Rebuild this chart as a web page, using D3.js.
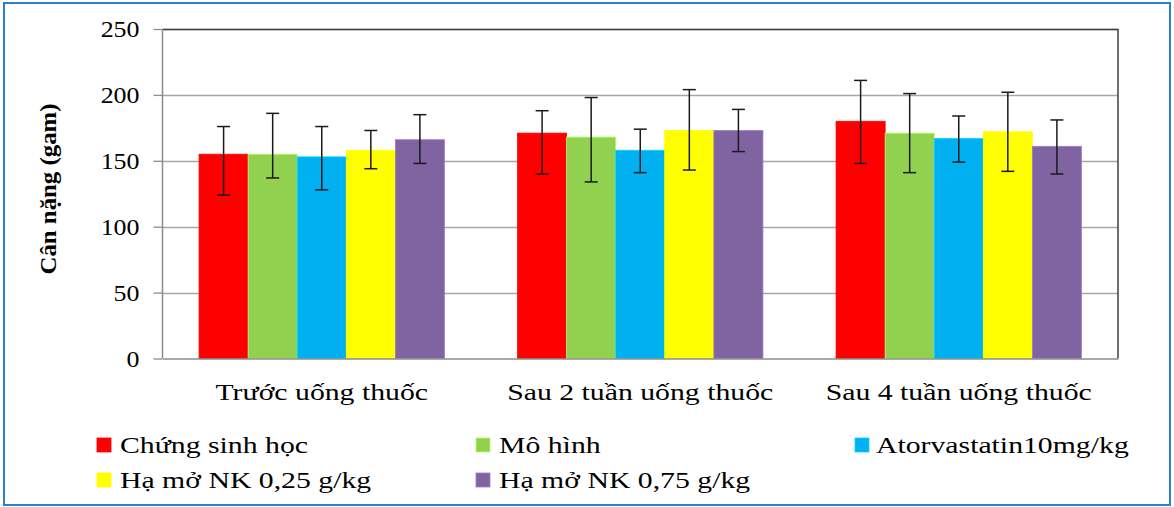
<!DOCTYPE html>
<html><head><meta charset="utf-8">
<script src="https://cdn.jsdelivr.net/npm/d3@7"></script>
<style>body{margin:0;background:#fff}svg{display:block}text{font-family:"Liberation Serif","Times New Roman",serif !important;fill:#000}</style>
</head><body>
<svg id="c" width="1174" height="507"></svg>
<script>
const categories = ["Trước uống thuốc", "Sau 2 tuần uống thuốc", "Sau 4 tuần uống thuốc"];
const seriesNames = ["Chứng sinh học", "Mô hình", "Atorvastatin10mg/kg", "Hạ mở NK 0,25 g/kg", "Hạ mở NK 0,75 g/kg"];
const colors = ["#ff0000", "#92d050", "#00b0f0", "#ffff00", "#8064a2"];
// means per series, one value per category
const means = [
  [155, 171, 180],
  [155, 168, 171],
  [153, 158, 167],
  [158, 173, 172],
  [166, 173, 161]
];
const errHigh = [
  [176, 188, 211],
  [186, 198, 201],
  [176, 174, 184],
  [173, 204, 202],
  [185, 189, 181]
];
const errLow = [
  [124, 140, 148],
  [137, 134, 141],
  [128, 141, 149],
  [144, 143, 142],
  [148, 157, 140]
];
const yTicks = [0, 50, 100, 150, 200, 250];

const FONT = '"Liberation Serif","Times New Roman",serif';
const svg = d3.select("#c");
// outer frame
svg.append("rect").attr("x", 4).attr("y", 3).attr("width", 1166).attr("height", 502)
  .attr("fill", "#fff").attr("stroke", "#2a7fd0").attr("stroke-width", 2);

const L = 162.5, R = 1118, T = 29, B = 358.5;
const x0 = d3.scaleBand().domain(categories).range([L, R]).paddingInner(0).paddingOuter(0);
const x1 = d3.scaleBand().domain(d3.range(seriesNames.length)).range([0, x0.bandwidth()]).paddingOuter(0.745).paddingInner(0);
const y = d3.scaleLinear().domain([0, 250]).range([B, T]);

// gridlines
svg.append("g").selectAll("line").data(yTicks.slice(1)).join("line")
  .attr("x1", L).attr("x2", R).attr("y1", d => Math.round(y(d)) + 0.5).attr("y2", d => Math.round(y(d)) + 0.5)
  .attr("stroke", "#a6a6a6").attr("stroke-width", 1.3);
// plot border top/right
svg.append("path").attr("d", `M${L},${Math.round(T)+0.5}H${R}V${B}`).attr("fill", "none").attr("stroke", "#404040").attr("stroke-width", 1.5);

// bars
const g = svg.append("g");
seriesNames.forEach((s, si) => {
  g.append("g").selectAll("rect").data(categories).join("rect")
    .attr("x", c => x0(c) + x1(si))
    .attr("width", x1.bandwidth())
    .attr("y", (c, ci) => y(means[si][ci]))
    .attr("height", (c, ci) => y(0) - y(means[si][ci]))
    .attr("fill", colors[si])
    .attr("stroke", d3.color(colors[si]).brighter(0.6)).attr("stroke-width", 0.8);
});
// error bars
seriesNames.forEach((s, si) => {
  const eg = g.append("g").attr("stroke", "#1a1a1a").attr("stroke-width", 1.5);
  categories.forEach((c, ci) => {
    const cx = x0(c) + x1(si) + x1.bandwidth() / 2;
    const yt = y(errHigh[si][ci]), yb = y(errLow[si][ci]);
    eg.append("line").attr("x1", cx).attr("x2", cx).attr("y1", yt).attr("y2", yb);
    eg.append("line").attr("x1", cx - 6.5).attr("x2", cx + 6.5).attr("y1", yt).attr("y2", yt);
    eg.append("line").attr("x1", cx - 6.5).attr("x2", cx + 6.5).attr("y1", yb).attr("y2", yb);
  });
});

// y axis
const ya = svg.append("g").attr("transform", `translate(${L},0)`)
  .call(d3.axisLeft(y).tickValues(yTicks).tickSize(9).tickPadding(14));
ya.attr("font-family", FONT);
ya.select(".domain").attr("stroke", "#8c8c8c").attr("stroke-width", 1.5).attr("d", `M0,${B}V${T}`);
ya.selectAll(".tick line").attr("stroke", "#8c8c8c").attr("stroke-width", 1.3);
ya.selectAll(".tick text").style("font-size", "24px").style("font-family", FONT).attr("fill", "#000")
  .attr("x", -23 / 1.08).attr("transform", "scale(1.08,1)");

// x axis
const xa = svg.append("g").attr("transform", `translate(0,${B})`)
  .call(d3.axisBottom(x0).tickSize(0).tickPadding(0));
xa.attr("font-family", FONT);
xa.select(".domain").attr("stroke", "#8c8c8c").attr("stroke-width", 1.5);
xa.selectAll(".tick text").style("font-size", "24px").style("font-family", FONT).attr("fill", "#000")
  .attr("dy", null).attr("y", 42).attr("transform", "scale(1.24,1)");

// y title
svg.append("text").attr("transform", "translate(56,189) rotate(-90) scale(1.08,1)").attr("text-anchor", "middle")
  .style("font-family", FONT).style("font-size", "23px").style("font-weight", "bold").text("Cân nặng (gam)");

// legend
const legPos = [[97, 438], [476, 438], [855, 438], [97, 473], [476, 473]];
const leg = svg.append("g").selectAll("g").data(seriesNames).join("g")
  .attr("transform", (d, i) => `translate(${legPos[i][0]},${legPos[i][1]})`);
leg.append("rect").attr("x", 0).attr("y", 0).attr("width", 14).attr("height", 14)
  .attr("fill", (d, i) => colors[i]).attr("stroke", (d, i) => d3.color(colors[i]).brighter(0.6)).attr("stroke-width", 0.8);
leg.append("text").attr("x", (d, i) => (i === 2 ? 21 : 23) / 1.24).attr("y", 15).attr("transform", "scale(1.24,1)")
  .style("font-family", FONT).style("font-size", "24px").text(d => d);
</script>
</body></html>
